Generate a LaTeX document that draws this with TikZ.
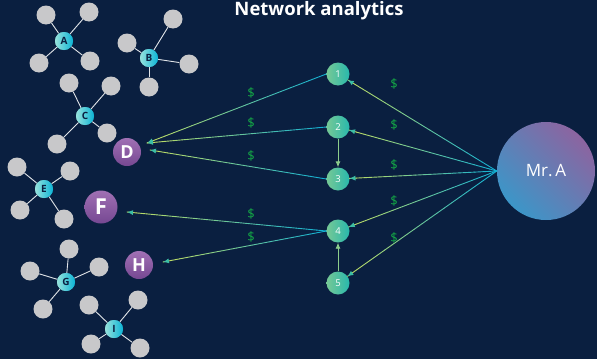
\documentclass[tikz,border=0pt]{standalone}
\usepackage{fontspec}
\setmainfont{Open Sans}
\usetikzlibrary{calc,arrows.meta}

\definecolor{bgnavy}{RGB}{10,31,64}
\definecolor{satgray}{RGB}{200,200,202}
\definecolor{spoke}{RGB}{225,228,232}
\definecolor{hubL}{RGB}{150,226,220}
\definecolor{hubR}{RGB}{12,180,214}
\definecolor{numA}{RGB}{118,200,150}
\definecolor{numB}{RGB}{40,184,172}
\definecolor{purT}{RGB}{160,112,180}
\definecolor{purB}{RGB}{118,72,146}
\definecolor{bossP}{RGB}{140,100,160}
\definecolor{bossB}{RGB}{60,150,200}
\definecolor{lcyan}{RGB}{20,176,210}
\definecolor{lgreen}{RGB}{190,220,100}
\definecolor{tipc}{RGB}{60,190,165}
\definecolor{vline}{RGB}{140,205,140}
\definecolor{dollar}{RGB}{20,170,70}

\tikzset{
  sat/.style={circle, fill=satgray, minimum size=19pt, inner sep=0pt},
  hub/.style={circle, left color=hubL, right color=hubR, minimum size=18pt,
    inner sep=0pt, font=\fontsize{10}{10}\selectfont\bfseries, text=bgnavy},
  spk/.style={draw=spoke, line width=0.9pt},
  target/.style={circle, top color=purT, bottom color=purB, inner sep=0pt,
    text=white, font=\fontsize{18}{18}\selectfont\bfseries},
  num/.style={circle, left color=numA, right color=numB, minimum size=23pt,
    inner sep=0pt, text=white, font=\fontsize{9.5}{9.5}\selectfont},
  boss/.style={circle, top color=bossP, bottom color=bossB, shading angle=-45,
    minimum size=98pt, inner sep=0pt,
    text=white, font=\fontsize{17}{17}\selectfont},
  seg/.style={line width=0.9pt, line cap=round},
  tipseg/.style={line width=0.9pt, -{Latex[length=6pt,width=5pt]}, color=tipc},
  vlink/.style={draw=vline, line width=0.9pt, -{Latex[length=6pt,width=5pt]}},
  cash/.style={text=dollar, font=\fontsize{13}{13}\selectfont},
}

% connector whose colour runs from cyan at the start to yellow-green at the tip
\newcommand\gradlink[2]{%
  \foreach \i in {0,...,19} {%
    \pgfmathsetmacro\ta{\i/20}%
    \pgfmathsetmacro\tb{(\i+1)/20}%
    \pgfmathsetmacro\mix{100*\i/19}%
    \draw[seg, color=lgreen!\mix!lcyan] ($(#1)!\ta!(#2)$) -- ($(#1)!\tb!(#2)$);
  }%
  \draw[tipseg] ($(#1)!0.97!(#2)$) -- (#2);
}

% a hub with its four satellites
\newcommand\cluster[6]{% name, hub pos, four satellite positions
  \node[sat] (#1s1) at #3 {};
  \node[sat] (#1s2) at #4 {};
  \node[sat] (#1s3) at #5 {};
  \node[sat] (#1s4) at #6 {};
  \node[hub] (#1) at #2 {};
  \foreach \k in {1,...,4} {\draw[spk] (#1) -- (#1s\k);}
  \node[hub] at (#1) {#1};
}

\begin{document}
\begin{tikzpicture}[x=1pt,y=-1pt]
  \fill[bgnavy] (0,0) rectangle (597,359);
  \useasboundingbox (0,0) rectangle (597,359);

  \node[text=white, font=\fontsize{18.5}{18.5}\selectfont\bfseries] (title) at (319,11) {Network analytics};

  % account clusters
  \cluster{A}{(64,41)}{(46,15)}{(89,12)}{(39,63)}{(90,61)}
  \cluster{B}{(149,58)}{(127,43)}{(173,19)}{(189,64)}{(149,87)}
  \cluster{C}{(85,116)}{(69,83)}{(111,86)}{(107,133)}{(57,144)}
  \cluster{E}{(44,189)}{(17,167)}{(70,171)}{(20,210)}{(64,219)}
  \cluster{G}{(66,282)}{(69,249)}{(30,271)}{(99,267)}{(43,309)}
  \cluster{I}{(114,329)}{(89,305)}{(138,300)}{(91,344)}{(140,348)}

  % receiving accounts
  \node[target, minimum size=28pt] (D) at (127,152) {D};
  \node[target, minimum size=33pt, font=\fontsize{22}{22}\selectfont\bfseries] (F) at (101,207) {F};
  \node[target, minimum size=28pt] (H) at (139,265) {H};

  % intermediaries
  \node[num] (n1) at (338,74) {1};
  \node[num] (n2) at (338,127) {2};
  \node[num] (n3) at (338,179) {3};
  \node[num] (n4) at (338,231) {4};
  \node[num] (n5) at (338,283) {5};

  % source
  \node[boss] (MrA) at (546,171) {Mr.\,A};

  % arrival points next to the receivers and the intermediaries
  \coordinate (Dup) at ($(D)+(20,-9)$);
  \coordinate (Dlo) at ($(D)+(23,-2)$);
  \coordinate (Fin) at ($(F)+(26,5)$);
  \coordinate (Hin) at ($(H)+(24,-3)$);
  \foreach \n in {n1,n2,n3,n4,n5} {
    \coordinate (\n-in) at ($(\n)!11.5pt!(MrA.west)$);
  }

  % flows out of Mr. A
  \gradlink{MrA.west}{n1-in}
  \gradlink{MrA.west}{n2-in}
  \gradlink{MrA.west}{n3-in}
  \gradlink{MrA.west}{n4-in}
  \gradlink{MrA.west}{n5-in}

  % flows to the receivers
  \gradlink{n1.west}{Dup}
  \gradlink{n2.west}{Dup}
  \gradlink{n3.west}{Dlo}
  \gradlink{n4.west}{Fin}
  \gradlink{n4.west}{Hin}

  % hops between intermediaries
  \draw[vlink] (n2) -- (n3);
  \draw[vlink] (n5) -- (n4);

  % money labels
  \foreach \y [count=\j] in {93,123,156,214,237} {\node[cash] (cl\j) at (251,\y) {\$};}
  \foreach \y [count=\j] in {84,125,165,201,238} {\node[cash] (cr\j) at (394,\y) {\$};}
\end{tikzpicture}
\end{document}
